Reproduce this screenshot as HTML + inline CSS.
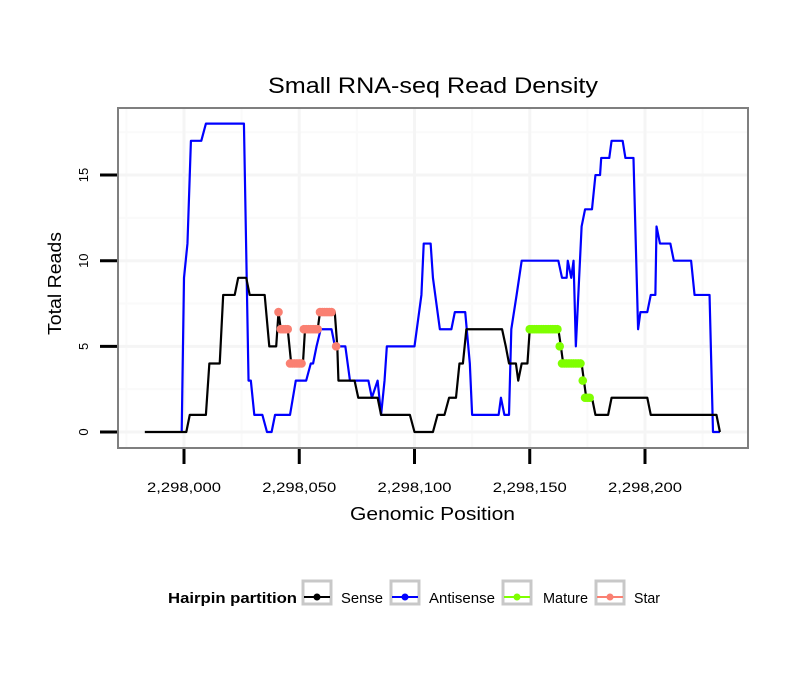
<!DOCTYPE html>
<html><head><meta charset="utf-8"><style>
body{margin:0;background:#fff;}
svg text{font-family:"Liberation Sans",sans-serif;}
</style></head><body>
<svg id="chart" width="810" height="690" xmlns="http://www.w3.org/2000/svg">
<text x="268" y="93" font-size="22" textLength="330" lengthAdjust="spacingAndGlyphs">Small RNA-seq Read Density</text>
<rect x="118" y="108" width="630" height="340" fill="#fff"/>
<g id="grid"></g>
<g id="series"></g>
<rect x="118" y="108" width="630" height="340" fill="none" stroke="#7f7f7f" stroke-width="2"/>
<g id="axes"></g>
<text x="350" y="520" font-size="18" textLength="165" lengthAdjust="spacingAndGlyphs">Genomic Position</text>
<text transform="translate(61,335) rotate(-90)" font-size="18" textLength="103" lengthAdjust="spacingAndGlyphs">Total Reads</text>
<g>
<text x="168" y="603" font-size="15" font-weight="bold" textLength="129" lengthAdjust="spacingAndGlyphs">Hairpin partition</text>
<g id="legend"></g>
</g>
</svg>
<script>
const senseX=[-17,1,2.5,9.5,11,15.5,17,22,23.5,27,28.5,35,37,40,41,42,45,46.5,51.6,52.5,58,59,65.4,66.5,67,74,75.6,84,85.5,98,100,108,110,113,115,118,119.5,121,122.5,138,139.6,141,144,145,146.5,149,150,162.4,163.5,164.5,172.5,173.5,174.5,177,178.5,184,185.5,201,202.5,231,232.5];
const senseY=[0,0,1,1,4,4,8,8,9,9,8,8,5,5,7,6,6,4,4,6,6,7,7,5,3,3,2,2,1,1,0,0,1,1,2,2,4,4,6,6,5,4,4,3,4,4,6,6,5,4,4,3,2,2,1,1,2,2,1,1,0];
const antiX=[-1,0,1.5,3,7.5,9.5,26,28,29,30.5,34,36,38,39.5,46,48.5,53,55,56,57.5,59.3,64,65.5,70,72,80,81.5,84,85.5,87,88,100,102,103,104,107,108,109,111,116,117.5,122,124,125,136.5,137.5,139,141,142,144.3,146.5,162.4,164,166,166.5,168,169,170,172.5,174,177,178.5,180.5,181,184.5,185.5,190.3,191.5,195,197,198,201,202.5,204.5,205,206.5,211,212.5,220,221.5,228,229.5,232.5];
const antiY=[0,9,11,17,17,18,18,3,3,1,1,0,0,1,1,3,3,4,4,5,6,6,5,5,3,3,2,3,1,3,5,5,7,8,11,11,9,8,6,6,7,7,4,1,1,2,1,1,6,8,10,10,9,9,10,9,10,5,12,13,13,15,15,16,16,17,17,16,16,6,7,7,8,8,12,11,11,10,10,8,8,0,0];
const starStart=[41,42,46,52,59,66];
const starEnd=[41,45,51,58,64,66];
const starVal=[7,6,4,6,7,5];
const matStart=[150,163,164,173,174];
const matEnd=[162,163,172,173,176];
const matVal=[6,5,4,3,2];
const xTicks=[0,50,100,150,200];
const xTickLabels=["2,298,000","2,298,050","2,298,100","2,298,150","2,298,200"];
const yTicks=[0,5,10,15];
const yTickLabels=["0","5","10","15"];
const legendLabels=["Sense","Antisense","Mature","Star"];
const legendColors=["#000","#0000ff","#7fff00","#fa8072"];

const NS="http://www.w3.org/2000/svg";
const X=v=>184+v*2.305;
const Y=v=>432-v*17.13;
function mk(t,a,p){const e=document.createElementNS(NS,t);for(const k in a)e.setAttribute(k,a[k]);p.appendChild(e);return e;}
const grid=document.getElementById('grid'),ser=document.getElementById('series'),ax=document.getElementById('axes'),lg=document.getElementById('legend');
[-25,25,75,125,175,225].forEach(v=>{const l=mk('line',{x1:X(v),x2:X(v),y1:109,y2:447,stroke:'#fafafa','stroke-width':2},grid);

});
[2.5,7.5,12.5,17.5].forEach(v=>{const l=mk('line',{x1:119,x2:747,y1:Y(v),y2:Y(v),stroke:'#fafafa','stroke-width':2},grid);

});
xTicks.forEach((v,i)=>{const l=mk('line',{x1:X(v),x2:X(v),y1:109,y2:447,stroke:'#f5f5f5','stroke-width':3},grid);


const t=mk('line',{x1:X(v),x2:X(v),y1:449,y2:464,stroke:'#000','stroke-width':3},ax);


const tx=mk('text',{x:X(v),y:492,'font-size':14,'text-anchor':'middle',textLength:74,lengthAdjust:'spacingAndGlyphs'},ax);tx.textContent=xTickLabels[i];

});
yTicks.forEach((v,i)=>{const l=mk('line',{x1:119,x2:747,y1:Y(v),y2:Y(v),stroke:'#f5f5f5','stroke-width':3},grid);


const t=mk('line',{x1:100,x2:117,y1:Y(v),y2:Y(v),stroke:'#000','stroke-width':3},ax);


const tx=mk('text',{transform:`translate(88,${Y(v)}) rotate(-90)`,'font-size':13,'text-anchor':'middle'},ax);tx.textContent=yTickLabels[i];

});
function line(xs,ys,c,n){const p=mk('polyline',{points:xs.map((x,i)=>X(x)+','+Y(ys[i])).join(' '),fill:'none',stroke:c,'stroke-width':2.2,'stroke-linejoin':'round'},ser);

}
line(antiX,antiY,'#0000ff','antisense-line');
line(senseX,senseY,'#000','sense-line');
function dots(s,e,v,c,n){s.forEach((st,i)=>{for(let p=st;p<=e[i];p++){const d=mk('circle',{cx:X(p),cy:Y(v[i]),r:4.3,fill:c},ser);

}});}
dots(starStart,starEnd,starVal,'#fa8072','star-point');
dots(matStart,matEnd,matVal,'#7fff00','mature-point');
const boxX=[303,391,503,596],txtX=[341,429,543,634],txtW=[42,66,45,26];
legendLabels.forEach((lab,i)=>{const g=mk('g',{},lg);


mk('rect',{x:boxX[i],y:581,width:28,height:23,fill:'#fff',stroke:'#c8c8c8','stroke-width':3},g);
mk('line',{x1:boxX[i]+1,x2:boxX[i]+27,y1:597,y2:597,stroke:legendColors[i],'stroke-width':2},g);
mk('circle',{cx:boxX[i]+14,cy:597,r:3.5,fill:legendColors[i]},g);
const t=mk('text',{x:txtX[i],y:603,'font-size':15,textLength:txtW[i],lengthAdjust:'spacingAndGlyphs'},g);t.textContent=lab;});
</script>
</body></html>
